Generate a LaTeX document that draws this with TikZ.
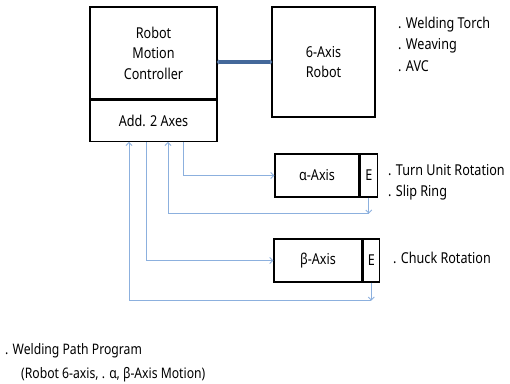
\documentclass[tikz,border=0pt]{standalone}
\usepackage{fontspec}
\setmainfont[FakeStretch=0.84]{Noto Sans}
\usetikzlibrary{arrows.meta,positioning}
\definecolor{linkblue}{RGB}{68,104,154}
\definecolor{signal}{RGB}{140,176,222}
\tikzset{
  box/.style={draw=black, line width=1.3pt, rectangle, inner sep=0pt, align=center, font=\fontsize{15}{20.5}\selectfont},
  note/.style={anchor=west, align=left, inner sep=0pt, font=\fontsize{15}{21.5}\selectfont},
  flow/.style={draw=signal, line width=0.9pt, -{Straight Barb[length=3pt,width=6pt]}},
  bus/.style={draw=linkblue, line width=3.8pt, {Triangle[length=2pt,width=5pt]}-{Triangle[length=2pt,width=5pt]}, shorten <=-1pt, shorten >=-1pt}
}
\begin{document}
\begin{tikzpicture}[x=1pt,y=-1pt]
\useasboundingbox (0,0) rectangle (510,383);
% controller with its two-axis extension
\node[box, minimum width=127pt, minimum height=92pt] (ctrl) at (153.5,53) {Robot\\Motion\\Controller};
\node[box, minimum width=127pt, minimum height=41pt, anchor=north] (ext) at (ctrl.south) {Add. 2 Axes};
% robot arm
\node[box, minimum width=103pt, minimum height=110pt] (robot) at (323.5,62) {6-Axis\\Robot};
\draw[bus] (ctrl.east |- 0,62) -- (robot.west |- 0,62);
% external axes with encoders
\node[box, minimum width=84pt, minimum height=43pt] (alpha) at (317,175.5) {α-Axis};
\node[box, minimum width=17pt, minimum height=43pt, anchor=west] (alphaE) at (alpha.east) {E};
\node[box, minimum width=88pt, minimum height=43pt] (beta) at (318,260.5) {β-Axis};
\node[box, minimum width=16pt, minimum height=43pt, anchor=west] (betaE) at (beta.east) {E};
% command and feedback lines
\draw[flow] ([xshift=29.5]ext.south) |- (alpha.west);
\draw[flow] (alphaE.south) -- ++(0,16) coordinate (afb);
\draw[flow] (afb) -| ([xshift=14.5]ext.south);
\draw[flow] ([xshift=-7.5]ext.south) |- (beta.west);
\draw[flow] (betaE.south) -- ++(0,18) coordinate (bfb);
\draw[flow] (bfb) -| ([xshift=-24.5]ext.south);
% annotations
\node[note] (rnote) at (398,44) {. Welding Torch\\. Weaving\\. AVC};
\node[note] (anote) at (388,182.5) {. Turn Unit Rotation\\. Slip Ring};
\node[note] (bnote) at (393,258) {. Chuck Rotation};
\node[note, font=\fontsize{14.5}{24}\selectfont] (pnote) at (5,363) {. Welding Path Program\\\hspace*{16pt}(Robot 6-axis, . α, β-Axis Motion)};
\end{tikzpicture}
\end{document}
